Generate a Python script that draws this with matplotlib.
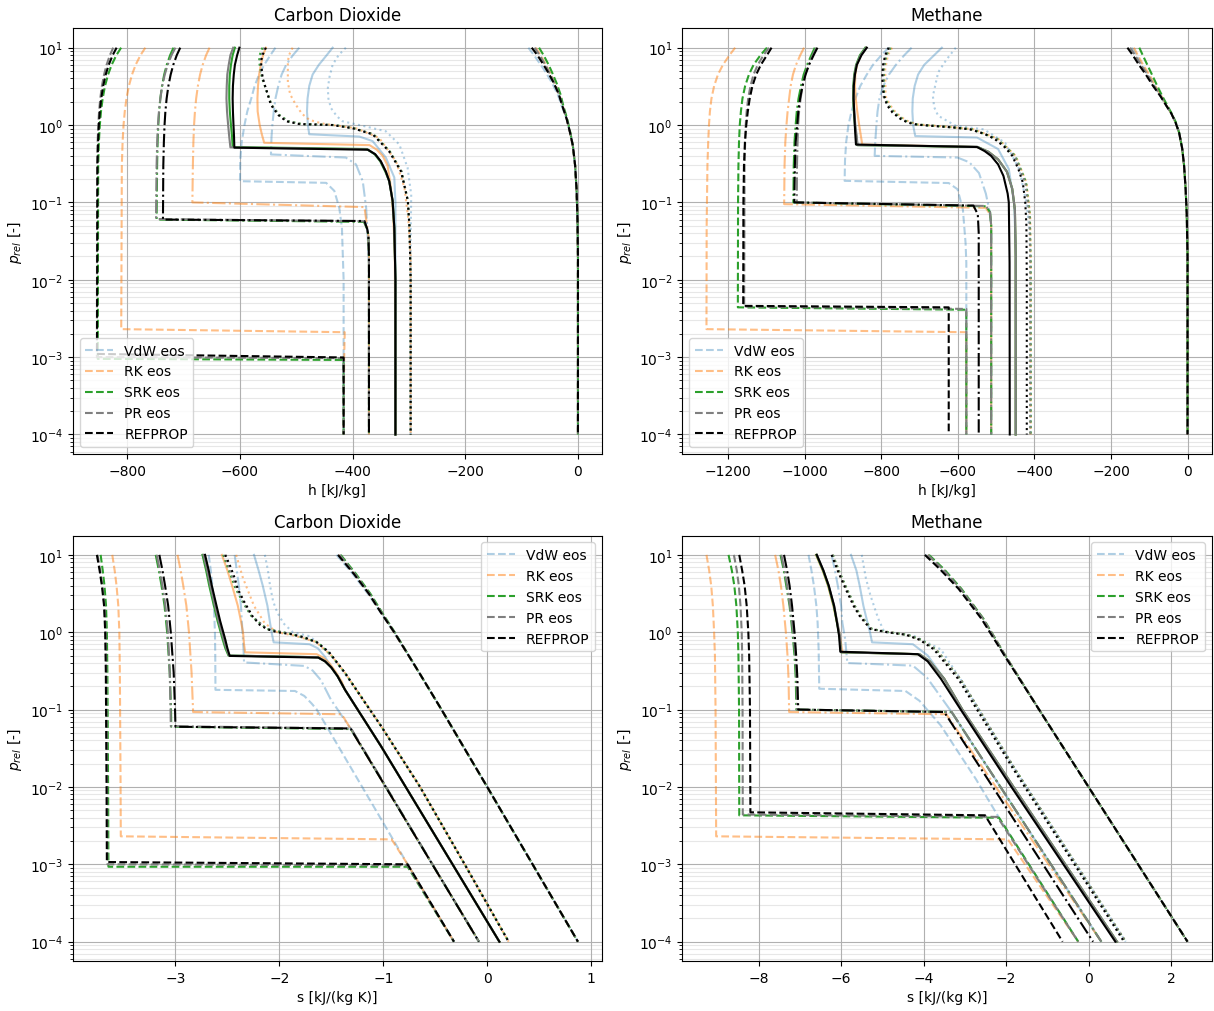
import matplotlib
matplotlib.use('Agg')
import matplotlib.pyplot as plt

# Isotherms as (x, p_rel) points, five temperatures per equation of state
# Order of temperatures: T1 (lowest), T2, T3, T4 (critical), T5 (reference)

# ---- Carbon dioxide, p-h ----
co2_h_vdw = [
    [(-537, 10), (-546, 8), (-557, 6), (-566, 4.5), (-574, 3.2), (-580, 2.2), (-587, 1.5), (-592, 1.0),
     (-597, 0.6), (-599.5, 0.35), (-600, 0.188),
     (-447, 0.179), (-432.5, 0.141), (-423.7, 0.085), (-419, 0.047), (-416, 0.01), (-416, 1e-4)],
    [(-494.7, 10), (-506, 8), (-518, 6), (-526, 4.5), (-532, 3.2), (-537, 2.2), (-540, 1.5), (-542.5, 1.0),
     (-544, 0.7), (-545, 0.417),
     (-412, 0.38), (-394, 0.31), (-382, 0.188), (-376, 0.085), (-374, 0.047), (-371, 0.015), (-371, 1e-4)],
    [(-435.5, 10), (-446, 8), (-460, 6), (-471, 4.5), (-477, 3.2), (-480, 2.2), (-481, 1.5), (-479.5, 1.0),
     (-477, 0.76),
     (-388, 0.71), (-364.5, 0.62), (-341, 0.38), (-326, 0.21), (-324, 0.1), (-324, 1e-4)],
    [(-412, 10), (-425, 8), (-435.5, 6.0), (-441, 4.2), (-444, 3.0), (-443, 2.2), (-438.5, 1.66), (-428, 1.3),
     (-418, 1.12), (-376, 0.955), (-341, 0.83), (-317, 0.56), (-302.4, 0.28), (-296, 0.126), (-297, 0.03),
     (-297, 1e-4)],
    [(-88, 10), (-78, 8), (-66, 6), (-57, 4.8), (-46, 3.5), (-36, 2.5), (-29, 1.78), (-20, 1.2), (-14, 0.8),
     (-9, 0.54), (-5, 0.3), (-2.5, 0.15), (-0.8, 0.06), (0, 0.02), (0, 1e-4)],
]
co2_h_rk = [
    [(-768, 10), (-776.6, 8), (-785.2, 6), (-791.6, 4.5), (-797.2, 3.2), (-801.5, 2.2), (-804.5, 1.5),
     (-806.7, 1.0), (-808.4, 0.6), (-809.7, 0.3), (-810.8, 0.0023),
     (-414, 0.0021), (-415, 0.001), (-416, 1e-4)],
    [(-654, 10), (-660.1, 8), (-666.2, 6), (-670.8, 4.5), (-674.7, 3.2), (-677.8, 2.2), (-679.9, 1.5),
     (-681.5, 1.0), (-682.7, 0.6), (-683.6, 0.3), (-684.5, 0.1),
     (-379, 0.087), (-376, 0.06), (-372, 0.037), (-371, 0.02), (-371, 1e-4)],
    [(-554, 10), (-559, 8), (-563, 6), (-566, 4.5), (-568, 3.2), (-569, 2.2), (-568.6, 1.5), (-565, 1.0),
     (-561, 0.75), (-557, 0.59),
     (-370, 0.55), (-357, 0.48), (-346.7, 0.4), (-338, 0.3), (-332, 0.155), (-328, 0.07), (-325, 0.02), (-324, 1e-4)],
    [(-506.5, 10), (-513, 8), (-515, 6.6), (-515, 3.6), (-511, 2.5), (-500.6, 1.82), (-490, 1.4), (-477, 1.17),
     (-455, 1.05), (-435.5, 1.0), (-394, 0.91), (-352.7, 0.68), (-323, 0.34), (-308, 0.155), (-301, 0.06),
     (-297, 0.02), (-297, 1e-4)],
    [(-75, 10), (-66, 8), (-57, 6), (-50, 4.8), (-41, 3.5), (-33, 2.5), (-27, 1.78), (-20, 1.2), (-14, 0.8),
     (-9, 0.54), (-5, 0.3), (-2.5, 0.15), (-0.8, 0.06), (0, 0.02), (0, 1e-4)],
]
co2_h_srk = [
    [(-811, 10), (-819.4, 8), (-827.8, 6), (-834.1, 4.5), (-839.6, 3.2), (-843.8, 2.2), (-846.7, 1.5),
     (-848.8, 1.0), (-850.5, 0.6), (-851.7, 0.3), (-852.5, 0.00095),
     (-416, 0.00092), (-416, 1e-4)],
    [(-718, 10), (-724, 8), (-730, 6), (-734.5, 4.5), (-738.4, 3.2), (-741.4, 2.2), (-743.5, 1.5), (-745, 1.0),
     (-746.2, 0.6), (-747.1, 0.3), (-748, 0.06),
     (-380, 0.056), (-374, 0.045), (-372, 0.037), (-371, 0.02), (-371, 1e-4)],
    [(-609, 10), (-613, 8), (-616, 6), (-618, 4.5), (-619, 3.2), (-619, 2.2), (-618, 1.5), (-616, 1.0),
     (-614, 0.7), (-613, 0.52),
     (-375, 0.49), (-361, 0.42), (-351, 0.34), (-342, 0.25), (-335, 0.188), (-329, 0.105), (-326, 0.047),
     (-324, 0.01), (-324, 1e-4)],
    [(-560, 10), (-565, 8), (-566, 6.6), (-563, 5), (-561, 4.07), (-553, 2.8), (-544, 1.82), (-530, 1.35),
     (-514, 1.12), (-490, 1.03), (-432, 1.0), (-398, 0.91), (-363, 0.76), (-334, 0.457), (-313, 0.25),
     (-302, 0.105), (-299, 0.047), (-297, 0.01), (-297, 1e-4)],
    [(-69, 10), (-61, 8), (-52, 6), (-46, 4.8), (-38, 3.5), (-31, 2.5), (-26, 1.78), (-19, 1.2), (-13.5, 0.8),
     (-9, 0.54), (-5, 0.3), (-2.5, 0.15), (-0.8, 0.06), (0, 0.02), (0, 1e-4)],
]
co2_h_pr = [
    [(-825, 10), (-830.9, 8), (-836.8, 6), (-841.2, 4.5), (-845.1, 3.2), (-848, 2.2), (-850.1, 1.5),
     (-851.5, 1.0), (-852.7, 0.6), (-853.6, 0.3), (-854, 0.001),
     (-416, 0.00097), (-416, 1e-4)],
    [(-714.6, 10), (-721.5, 8), (-728.4, 6), (-733.5, 4.5), (-738, 3.2), (-741.4, 2.2), (-743.8, 1.5),
     (-745.6, 1.0), (-746.9, 0.6), (-748, 0.3), (-749, 0.061),
     (-379, 0.057), (-374, 0.045), (-372, 0.037), (-371, 0.02), (-371, 1e-4)],
    [(-612, 10), (-617, 8), (-620, 6), (-622.5, 4.5), (-623.5, 3.2), (-624, 2.2), (-623, 1.5), (-621, 1.0),
     (-619, 0.7), (-617, 0.515),
     (-374, 0.485), (-360, 0.42), (-350, 0.34), (-341, 0.25), (-335, 0.188), (-329, 0.105), (-326, 0.047),
     (-324, 0.01), (-324, 1e-4)],
    [(-557, 10), (-562, 8), (-564, 6.6), (-562, 5), (-560, 4.07), (-553, 2.8), (-544, 1.82), (-531, 1.35),
     (-516, 1.12), (-492, 1.03), (-434, 1.0), (-399, 0.91), (-364, 0.76), (-335, 0.457), (-313, 0.25),
     (-302, 0.105), (-299, 0.047), (-297, 0.01), (-297, 1e-4)],
    [(-77, 10), (-68, 8), (-58, 6), (-51, 4.8), (-42, 3.5), (-33.5, 2.5), (-27.5, 1.78), (-20, 1.2), (-14, 0.8),
     (-9, 0.54), (-5, 0.3), (-2.5, 0.15), (-0.8, 0.06), (0, 0.02), (0, 1e-4)],
]
co2_h_ref = [
    [(-819, 10), (-826, 8), (-833, 6), (-838.3, 4.5), (-842.8, 3.2), (-846.3, 2.2), (-848.8, 1.5),
     (-850.5, 1.0), (-851.9, 0.6), (-853, 0.3), (-853.8, 0.0011),
     (-416, 0.00099), (-416, 1e-4)],
    [(-706, 10), (-712.2, 8), (-718.4, 6), (-723, 4.5), (-727.1, 3.2), (-730.2, 2.2), (-732.4, 1.5),
     (-733.9, 1.0), (-735.1, 0.6), (-736.1, 0.3), (-736.7, 0.06),
     (-379, 0.0575), (-374, 0.045), (-372, 0.037), (-371, 0.02), (-371, 1e-4)],
    [(-601, 10), (-605, 8), (-609, 6), (-611, 4.5), (-612.5, 3.2), (-613, 2.2), (-612.5, 1.5), (-611.5, 1.0),
     (-610.5, 0.7), (-610, 0.51),
     (-373, 0.48), (-360, 0.42), (-350, 0.34), (-341, 0.25), (-335, 0.188), (-329, 0.105), (-326, 0.047),
     (-324, 0.01), (-324, 1e-4)],
    [(-554, 10), (-560, 8), (-562.7, 6.6), (-561, 5), (-559.8, 4.07), (-553, 2.8), (-545, 1.82), (-532, 1.35),
     (-518, 1.12), (-494.7, 1.03), (-435.5, 1.0), (-400, 0.91), (-364.5, 0.76), (-335, 0.457), (-314, 0.25),
     (-302, 0.105), (-299, 0.047), (-297, 0.01), (-297, 1e-4)],
    [(-82, 10), (-72, 8), (-61, 6), (-53, 4.8), (-43, 3.5), (-34, 2.5), (-27.8, 1.78), (-20, 1.2), (-14, 0.8),
     (-9, 0.54), (-5, 0.3), (-2.5, 0.15), (-0.8, 0.06), (0, 0.02), (0, 1e-4)],
]

# ---- Methane, p-h ----
ch4_h_vdw = [
    [(-781, 10), (-800, 8), (-822, 6), (-838, 4.5), (-855, 3.2), (-868, 2.2), (-878, 1.5), (-886, 1.0),
     (-892, 0.6), (-895, 0.35), (-896, 0.19),
     (-624, 0.178), (-601, 0.148), (-587, 0.081), (-580, 0.03), (-578, 0.0166), (-578, 1e-4)],
    [(-721, 10), (-740, 8), (-762, 6), (-780, 4.5), (-795, 3.2), (-805, 2.2), (-810, 1.5), (-813, 1.0),
     (-816, 0.6), (-817.5, 0.4),
     (-601, 0.38), (-570, 0.33), (-545, 0.24), (-527, 0.13), (-518, 0.08), (-513, 0.05), (-513, 1e-4)],
    [(-642, 10), (-662, 8), (-688, 6), (-704, 4.5), (-713, 3.2), (-718, 2.2), (-719, 1.5), (-717, 1.0),
     (-711.5, 0.72),
     (-550, 0.69), (-495, 0.49), (-467, 0.27), (-453.5, 0.1), (-449, 0.03), (-449, 1e-4)],
    [(-605.5, 10), (-630, 7), (-651.6, 4.8), (-665.4, 2.37), (-662, 1.7), (-651.6, 1.32), (-605.5, 0.977),
     (-532, 0.88), (-476.5, 0.59), (-440, 0.27), (-421, 0.1), (-412, 0.04), (-410, 0.0166), (-410, 1e-4)],
    [(-145, 10), (-133, 8), (-119, 6), (-103, 4.5), (-86, 3.2), (-70, 2.37), (-56, 1.8), (-42, 1.4), (-32, 1.1),
     (-22, 0.8), (-14, 0.5), (-9, 0.3), (-5, 0.15), (-2, 0.07), (0, 0.02), (0, 1e-4)],
]
ch4_h_rk = [
    [(-1182, 10), (-1197, 8), (-1214, 6), (-1227, 4.5), (-1237, 3.2), (-1244, 2.2), (-1248, 1.5),
     (-1250.5, 1.0), (-1252.5, 0.6), (-1254.5, 0.3), (-1256.5, 0.05), (-1257, 0.0023),
     (-578, 0.0021), (-578, 1e-4)],
    [(-1002, 10), (-1012, 8), (-1023, 6), (-1031, 4.5), (-1037, 3.2), (-1041, 2.2), (-1045, 1.5), (-1048, 1.0),
     (-1051, 0.6), (-1053, 0.3), (-1054, 0.095),
     (-527, 0.085), (-516, 0.07), (-513, 0.05), (-513, 1e-4)],
    [(-840, 10), (-854, 8), (-864, 6), (-868, 4.5), (-869, 3.2), (-867, 2.2), (-863, 1.5), (-858, 1.0),
     (-854, 0.75), (-850, 0.56),
     (-550, 0.52), (-520, 0.45), (-495, 0.36), (-472, 0.25), (-458, 0.15), (-451, 0.08), (-449, 0.02), (-449, 1e-4)],
    [(-772, 10), (-783, 8), (-790, 5.25), (-789, 2.37), (-777, 1.8), (-762, 1.45), (-736, 1.15), (-706, 1.02),
     (-632, 0.955), (-558, 0.88), (-494, 0.66), (-449, 0.4), (-421, 0.182), (-411, 0.068), (-410, 0.0166),
     (-410, 1e-4)],
    [(-140, 10), (-130, 8), (-116, 6), (-100, 4.5), (-84, 3.2), (-68, 2.37), (-55, 1.8), (-42, 1.4), (-32, 1.1),
     (-22, 0.8), (-14, 0.5), (-9, 0.3), (-5, 0.15), (-2, 0.07), (0, 0.02), (0, 1e-4)],
]
ch4_h_srk = [
    [(-1099, 10), (-1116, 8), (-1134, 6), (-1146, 4.5), (-1156, 3.2), (-1163, 2.2), (-1167, 1.5), (-1170, 1.0),
     (-1172, 0.6), (-1173.5, 0.3), (-1174.5, 0.1), (-1175, 0.0044),
     (-578, 0.0041), (-578, 1e-4)],
    [(-974, 10), (-983, 8), (-994, 6), (-1003, 4.5), (-1010, 3.2), (-1016.5, 2.2), (-1021, 1.5), (-1024, 1.0),
     (-1027, 0.6), (-1029, 0.3), (-1030, 0.1),
     (-527, 0.089), (-516, 0.075), (-513, 0.05), (-513, 1e-4)],
    [(-842, 10), (-856, 8), (-866, 6), (-871, 4.5), (-873.5, 3.2), (-874, 2.2), (-872, 1.5), (-869, 1.0),
     (-866, 0.75), (-863, 0.55),
     (-548, 0.52), (-520, 0.45), (-495, 0.36), (-472, 0.25), (-458, 0.15), (-451, 0.08), (-449, 0.02), (-449, 1e-4)],
    [(-776, 10), (-787, 8), (-794, 5.25), (-793, 2.37), (-781, 1.8), (-766, 1.45), (-740, 1.15), (-710, 1.02),
     (-636, 0.955), (-562, 0.88), (-497, 0.66), (-450, 0.4), (-422, 0.182), (-412, 0.068), (-410, 0.0166),
     (-410, 1e-4)],
    [(-126, 10), (-117, 8), (-105, 6), (-93, 4.5), (-79, 3.2), (-66, 2.37), (-53, 1.8), (-41, 1.4), (-31, 1.1),
     (-22, 0.8), (-14, 0.5), (-9, 0.3), (-5, 0.15), (-2, 0.07), (0, 0.02), (0, 1e-4)],
]
ch4_h_pr = [
    [(-1094, 10), (-1108, 8), (-1123, 6), (-1134, 4.5), (-1142, 3.2), (-1148, 2.2), (-1152, 1.5),
     (-1154.5, 1.0), (-1156, 0.6), (-1157.5, 0.3), (-1158.5, 0.0045),
     (-578, 0.0042), (-578, 1e-4)],
    [(-970, 10), (-979, 8), (-990, 6), (-999, 4.5), (-1006, 3.2), (-1011, 2.2), (-1015, 1.5), (-1017.5, 1.0),
     (-1019, 0.6), (-1020.5, 0.3), (-1021, 0.1),
     (-527, 0.09), (-516, 0.075), (-513, 0.05), (-513, 1e-4)],
    [(-840, 10), (-854, 8), (-865, 6), (-870, 4.5), (-872.5, 3.2), (-873, 2.2), (-871, 1.5), (-868, 1.0),
     (-865, 0.75), (-862, 0.55),
     (-550, 0.525), (-520, 0.45), (-495, 0.36), (-472, 0.25), (-458, 0.15), (-451, 0.08), (-449, 0.02), (-449, 1e-4)],
    [(-778, 10), (-789, 8), (-795, 5.25), (-795, 2.37), (-783, 1.8), (-768, 1.45), (-742, 1.15), (-712, 1.02),
     (-638, 0.955), (-564, 0.88), (-499, 0.66), (-452, 0.4), (-424, 0.182), (-413, 0.068), (-411, 0.0166),
     (-411, 1e-4)],
    [(-150, 10), (-137, 8), (-122, 6), (-105, 4.5), (-87, 3.2), (-70, 2.37), (-56, 1.8), (-42, 1.4), (-32, 1.1),
     (-22, 0.8), (-14, 0.5), (-9, 0.3), (-5, 0.15), (-2, 0.07), (0, 0.02), (0, 1e-4)],
]
ch4_h_ref = [
    [(-1087, 10), (-1099, 8), (-1115, 6), (-1127, 4.5), (-1137, 3.2), (-1144, 2.2), (-1149, 1.5), (-1153, 1.0),
     (-1156.5, 0.6), (-1159, 0.3), (-1160.5, 0.1), (-1161, 0.0046),
     (-624, 0.0044), (-624, 1e-4)],
    [(-967, 10), (-977, 8), (-989, 6), (-998, 4.5), (-1006, 3.2), (-1012.5, 2.2), (-1017, 1.5), (-1020, 1.0),
     (-1024, 0.6), (-1026, 0.3), (-1027.6, 0.1),
     (-559.4, 0.091), (-548, 0.07), (-545.6, 0.04), (-545.6, 1e-4)],
    [(-838, 10), (-852, 8), (-864, 6), (-869, 4.5), (-872, 3.2), (-872.5, 2.2), (-871, 1.5), (-869.5, 1.0),
     (-868, 0.75), (-866.4, 0.56),
     (-550, 0.52), (-530, 0.46), (-513.4, 0.4), (-495, 0.31), (-481, 0.22), (-470, 0.13), (-467, 0.1),
     (-465, 0.0166), (-464.5, 1e-4)],
    [(-781, 10), (-790, 8), (-795.5, 6), (-797.5, 4.5), (-797, 3.2), (-793, 2.4), (-785, 1.8), (-771, 1.45),
     (-750, 1.2), (-730, 1.07), (-705, 1.01), (-660, 0.97), (-610, 0.93), (-569, 0.88), (-530, 0.77),
     (-504, 0.66), (-478, 0.52), (-458, 0.4), (-442, 0.27), (-430.5, 0.182), (-424, 0.1), (-421, 0.05),
     (-420, 0.01), (-420, 1e-4)],
    [(-157, 10), (-143, 8), (-127, 6), (-109, 4.5), (-90, 3.2), (-71, 2.37), (-56, 1.8), (-42, 1.4), (-32, 1.1),
     (-22, 0.8), (-14, 0.5), (-9, 0.3), (-5, 0.15), (-2, 0.07), (0, 0.02), (0, 1e-4)],
]

# ---- Carbon dioxide, p-s ----
co2_s_vdw = [
    [(-2.68, 10), (-2.66, 6.3), (-2.645, 4), (-2.63, 2.2), (-2.62, 1), (-2.617, 0.5), (-2.615, 0.18),
     (-1.85, 0.174), (-1.76, 0.15), (-1.69, 0.12), (-1.64, 0.1), (-0.766, 0.001), (-0.32, 1e-4)],
    [(-2.43, 10), (-2.41, 6.3), (-2.39, 4), (-2.37, 2.2), (-2.355, 1), (-2.345, 0.6), (-2.34, 0.407),
     (-1.76, 0.367), (-1.68, 0.32), (-1.6, 0.24), (-1.505, 0.135), (-1.316, 0.057), (-0.08, 1e-4)],
    [(-2.244, 10), (-2.2, 6.3), (-2.16, 4), (-2.115, 2.2), (-2.09, 1.33), (-2.075, 1), (-2.055, 0.74),
     (-1.71, 0.70), (-1.63, 0.62), (-1.56, 0.48), (-1.5, 0.35), (-1.44, 0.27), (-1.368, 0.18), (-1.024, 0.034),
     (0.117, 1e-4)],
    [(-2.14, 10), (-2.11, 6.3), (-2.09, 4), (-2.06, 2.5), (-2.02, 1.8), (-1.96, 1.3), (-1.87, 1.0), (-1.71, 0.89),
     (-1.55, 0.6), (-1.4, 0.33), (-1.17, 0.12), (-1.024, 0.062), (-0.646, 0.01), (-0.217, 0.001), (0.206, 1e-4)],
    [(-1.45, 10), (-1.29, 5.6), (-1.15, 3.16), (-1.025, 1.8), (-0.9, 1), (-0.665, 0.316), (-0.44, 0.1),
     (0, 0.01), (0.873, 1e-4)],
]
co2_s_rk = [
    [(-3.608, 10), (-3.585, 6.3), (-3.567, 4), (-3.55, 2.2), (-3.54, 1), (-3.535, 0.3), (-3.528, 0.01),
     (-3.526, 0.0023), (-0.92, 0.0021), (-0.766, 0.001), (-0.32, 1e-4)],
    [(-2.98, 10), (-2.95, 6.3), (-2.925, 4), (-2.895, 2.2), (-2.87, 1), (-2.845, 0.3), (-2.83, 0.093),
     (-1.40, 0.087), (-1.316, 0.057), (-0.08, 1e-4)],
    [(-2.553, 10), (-2.5, 6.3), (-2.455, 4), (-2.4, 2.2), (-2.37, 1.4), (-2.35, 1), (-2.34, 0.7), (-2.33, 0.55),
     (-1.64, 0.52), (-1.58, 0.47), (-1.52, 0.4), (-1.46, 0.31), (-1.4, 0.23), (-1.368, 0.18), (-1.024, 0.034),
     (0.117, 1e-4)],
    [(-2.416, 10), (-2.35, 5), (-2.244, 2.19), (-2.14, 1.3), (-2.02, 1.0), (-1.85, 0.9), (-1.65, 0.75),
     (-1.5, 0.5), (-1.37, 0.3), (-1.17, 0.12), (-1.024, 0.062), (-0.646, 0.01), (-0.217, 0.001), (0.206, 1e-4)],
    [(-1.43, 10), (-1.275, 5.6), (-1.14, 3.16), (-1.02, 1.8), (-0.897, 1), (-0.665, 0.316), (-0.44, 0.1),
     (0, 0.01), (0.873, 1e-4)],
]
co2_s_srk = [
    [(-3.72, 10), (-3.7, 6.3), (-3.683, 4), (-3.668, 2.2), (-3.66, 1), (-3.655, 0.3), (-3.648, 0.01),
     (-3.645, 0.00093), (-0.766, 0.00093), (-0.32, 1e-4)],
    [(-3.19, 10), (-3.16, 6.3), (-3.134, 4), (-3.105, 2.2), (-3.08, 1), (-3.055, 0.3), (-3.043, 0.1),
     (-3.04, 0.06), (-1.31, 0.056), (-0.08, 1e-4)],
    [(-2.74, 10), (-2.705, 6.3), (-2.675, 4), (-2.63, 2.2), (-2.595, 1.4), (-2.565, 1), (-2.545, 0.8),
     (-2.52, 0.62), (-2.49, 0.5),
     (-1.63, 0.475), (-1.56, 0.42), (-1.5, 0.35), (-1.44, 0.27), (-1.368, 0.18), (-1.024, 0.034), (0.117, 1e-4)],
    [(-2.54, 10), (-2.48, 6), (-2.42, 3.63), (-2.34, 2.3), (-2.27, 1.62), (-2.12, 1.1), (-1.87, 0.94),
     (-1.63, 0.74), (-1.5, 0.5), (-1.37, 0.3), (-1.17, 0.12), (-1.024, 0.062), (-0.646, 0.01), (-0.217, 0.001),
     (0.206, 1e-4)],
    [(-1.41, 10), (-1.26, 5.6), (-1.125, 3.16), (-1.012, 1.8), (-0.89, 1), (-0.665, 0.316), (-0.44, 0.1),
     (0, 0.01), (0.873, 1e-4)],
]
co2_s_pr = [
    [(-3.75, 10), (-3.724, 6.3), (-3.703, 4), (-3.683, 2.2), (-3.672, 1), (-3.665, 0.3), (-3.658, 0.01),
     (-3.655, 0.001), (-0.766, 0.00097), (-0.32, 1e-4)],
    [(-3.18, 10), (-3.15, 6.3), (-3.125, 4), (-3.097, 2.2), (-3.073, 1), (-3.055, 0.3), (-3.047, 0.1),
     (-3.045, 0.061), (-1.31, 0.057), (-0.08, 1e-4)],
    [(-2.73, 10), (-2.695, 6.3), (-2.665, 4), (-2.62, 2.2), (-2.585, 1.4), (-2.555, 1), (-2.535, 0.8),
     (-2.51, 0.62), (-2.485, 0.5),
     (-1.63, 0.475), (-1.56, 0.42), (-1.5, 0.35), (-1.44, 0.27), (-1.368, 0.18), (-1.024, 0.034), (0.117, 1e-4)],
    [(-2.53, 10), (-2.47, 6), (-2.41, 3.63), (-2.335, 2.3), (-2.265, 1.62), (-2.12, 1.1), (-1.875, 0.94),
     (-1.635, 0.74), (-1.5, 0.5), (-1.37, 0.3), (-1.17, 0.12), (-1.024, 0.062), (-0.646, 0.01), (-0.217, 0.001),
     (0.206, 1e-4)],
    [(-1.42, 10), (-1.27, 5.6), (-1.135, 3.16), (-1.018, 1.8), (-0.893, 1), (-0.665, 0.316), (-0.44, 0.1),
     (0, 0.01), (0.873, 1e-4)],
]
co2_s_ref = [
    [(-3.756, 10), (-3.73, 6.3), (-3.708, 4), (-3.687, 2.2), (-3.676, 1), (-3.67, 0.3), (-3.663, 0.01),
     (-3.66, 0.00107), (-0.766, 0.001), (-0.32, 1e-4)],
    [(-3.155, 10), (-3.125, 6.3), (-3.1, 4), (-3.07, 2.2), (-3.045, 1), (-3.017, 0.3), (-3.004, 0.1),
     (-3.0, 0.06), (-1.316, 0.057), (-0.08, 1e-4)],
    [(-2.715, 10), (-2.68, 6.3), (-2.65, 4), (-2.605, 2.2), (-2.57, 1.4), (-2.54, 1), (-2.52, 0.8),
     (-2.5, 0.62), (-2.478, 0.494),
     (-1.625, 0.47), (-1.56, 0.42), (-1.5, 0.35), (-1.44, 0.27), (-1.368, 0.18), (-1.024, 0.034), (0.117, 1e-4)],
    [(-2.52, 10), (-2.47, 7), (-2.43, 5), (-2.4, 3.63), (-2.34, 2.5), (-2.26, 1.62), (-2.19, 1.25), (-2.12, 1.1),
     (-2.02, 1.0), (-1.88, 0.94), (-1.76, 0.86), (-1.64, 0.74), (-1.52, 0.55), (-1.37, 0.3), (-1.17, 0.12),
     (-1.024, 0.062), (-0.646, 0.01), (-0.217, 0.001), (0.206, 1e-4)],
    [(-1.436, 10), (-1.28, 5.6), (-1.14, 3.16), (-1.024, 1.8), (-0.895, 1), (-0.665, 0.316), (-0.44, 0.1),
     (0, 0.01), (0.873, 1e-4)],
]

# ---- Methane, p-s ----
ch4_s_vdw = [
    [(-6.79, 10), (-6.72, 6.3), (-6.66, 4), (-6.6, 2.2), (-6.57, 1.33), (-6.545, 0.6), (-6.53, 0.186),
     (-4.44, 0.174), (-4.1, 0.13), (-3.58, 0.062), (-2.73, 0.0126), (-2.17, 0.004), (-0.25, 1e-4)],
    [(-6.23, 10), (-6.15, 6.3), (-6.08, 4), (-6.0, 2.2), (-5.97, 1.33), (-5.9, 0.8), (-5.85, 0.4),
     (-4.26, 0.37), (-3.92, 0.26), (-3.32, 0.093), (0.31, 1e-4)],
    [(-5.76, 10), (-5.63, 6.3), (-5.55, 4), (-5.46, 2.2), (-5.36, 1.33), (-5.3, 1), (-5.25, 0.74),
     (-4.26, 0.70), (-3.9, 0.5), (-3.5, 0.25), (-3.06, 0.1), (-1.82, 0.01), (0.69, 1e-4)],
    [(-5.5, 10), (-5.4, 5), (-5.29, 3.0), (-5.1, 1.5), (-4.95, 1.0), (-4.26, 0.91), (-3.58, 0.6), (-3.1, 0.245),
     (-1.83, 0.0186), (0.9, 1e-4)],
    [(-3.95, 10), (-3.57, 6.5), (-3.12, 3.63), (-2.58, 1.5), (-2.03, 0.5), (-1.2, 0.1), (0, 0.01),
     (1.2, 0.001), (2.4, 1e-4)],
]
ch4_s_rk = [
    [(-9.265, 10), (-9.2, 6.3), (-9.15, 4), (-9.11, 2.2), (-9.08, 1), (-9.06, 0.5), (-9.045, 0.1),
     (-9.03, 0.0023), (-1.957, 0.0021), (-0.25, 1e-4)],
    [(-7.6, 10), (-7.52, 6.3), (-7.46, 4), (-7.4, 2.2), (-7.34, 1), (-7.3, 0.5), (-7.275, 0.25), (-7.26, 0.093),
     (-3.45, 0.087), (0.31, 1e-4)],
    [(-6.61, 10), (-6.45, 6.3), (-6.32, 4), (-6.19, 2.2), (-6.1, 1.33), (-6.03, 0.9), (-5.97, 0.55),
     (-4.1, 0.52), (-3.85, 0.42), (-3.5, 0.25), (-3.06, 0.1), (-1.82, 0.01), (0.69, 1e-4)],
    [(-6.21, 10), (-6.05, 6), (-5.87, 3.63), (-5.68, 2.2), (-5.53, 1.62), (-5.26, 1.1), (-4.85, 1.0),
     (-4.41, 0.93), (-4.07, 0.8), (-3.7, 0.6), (-3.1, 0.245), (-1.83, 0.0186), (0.9, 1e-4)],
    [(-3.9, 10), (-3.53, 6.5), (-3.1, 3.63), (-2.56, 1.5), (-2.02, 0.5), (-1.2, 0.1), (0, 0.01),
     (1.2, 0.001), (2.4, 1e-4)],
]
ch4_s_srk = [
    [(-8.73, 10), (-8.65, 6.3), (-8.59, 4), (-8.54, 2.2), (-8.505, 1), (-8.49, 0.5), (-8.475, 0.1),
     (-8.47, 0.0043), (-2.17, 0.004), (-0.25, 1e-4)],
    [(-7.47, 10), (-7.39, 6.3), (-7.33, 4), (-7.25, 2.2), (-7.18, 1), (-7.13, 0.5), (-7.1, 0.25), (-7.085, 0.1),
     (-3.32, 0.093), (0.31, 1e-4)],
    [(-6.6, 10), (-6.44, 6.3), (-6.31, 4), (-6.18, 2.2), (-6.1, 1.33), (-6.04, 0.9), (-6.0, 0.55),
     (-4.1, 0.52), (-3.85, 0.42), (-3.5, 0.25), (-3.06, 0.1), (-1.82, 0.01), (0.69, 1e-4)],
    [(-6.2, 10), (-6.04, 6), (-5.86, 3.63), (-5.67, 2.2), (-5.52, 1.62), (-5.25, 1.1), (-4.84, 1.0),
     (-4.4, 0.93), (-4.06, 0.8), (-3.7, 0.6), (-3.1, 0.245), (-1.83, 0.0186), (0.9, 1e-4)],
    [(-3.87, 10), (-3.5, 6.5), (-3.08, 3.63), (-2.55, 1.5), (-2.02, 0.5), (-1.2, 0.1), (0, 0.01),
     (1.2, 0.001), (2.4, 1e-4)],
]
ch4_s_pr = [
    [(-8.6, 10), (-8.53, 6.3), (-8.48, 4), (-8.44, 2.2), (-8.41, 1), (-8.4, 0.5), (-8.39, 0.1),
     (-8.385, 0.0044), (-2.21, 0.0041), (-0.25, 1e-4)],
    [(-7.45, 10), (-7.37, 6.3), (-7.31, 4), (-7.24, 2.2), (-7.16, 1), (-7.11, 0.5), (-7.08, 0.25), (-7.07, 0.1),
     (-3.32, 0.093), (0.31, 1e-4)],
    [(-6.59, 10), (-6.43, 6.3), (-6.3, 4), (-6.17, 2.2), (-6.09, 1.33), (-6.03, 0.9), (-6.0, 0.55),
     (-4.1, 0.52), (-3.85, 0.42), (-3.5, 0.25), (-3.06, 0.1), (-1.82, 0.01), (0.69, 1e-4)],
    [(-6.21, 10), (-6.05, 6), (-5.87, 3.63), (-5.68, 2.2), (-5.53, 1.62), (-5.26, 1.1), (-4.85, 1.0),
     (-4.41, 0.93), (-4.07, 0.8), (-3.71, 0.6), (-3.1, 0.245), (-1.83, 0.0186), (0.9, 1e-4)],
    [(-3.9, 10), (-3.53, 6.5), (-3.1, 3.63), (-2.56, 1.5), (-2.02, 0.5), (-1.2, 0.1), (0, 0.01),
     (1.2, 0.001), (2.4, 1e-4)],
]
ch4_s_ref = [
    [(-8.47, 10), (-8.4, 6.3), (-8.34, 4), (-8.29, 2.2), (-8.25, 1), (-8.23, 0.5), (-8.21, 0.1),
     (-8.2, 0.0047), (-2.51, 0.0043), (-0.63, 1e-4)],
    [(-7.385, 10), (-7.31, 6.3), (-7.25, 4), (-7.19, 2.2), (-7.13, 1), (-7.09, 0.5), (-7.06, 0.25), (-7.04, 0.1),
     (-3.5, 0.093), (0.11, 1e-4)],
    [(-6.59, 10), (-6.43, 6.3), (-6.3, 4), (-6.17, 2.2), (-6.1, 1.33), (-6.05, 0.9), (-6.02, 0.56),
     (-4.14, 0.52), (-3.9, 0.42), (-3.58, 0.25), (-3.1, 0.1), (-1.87, 0.01), (0.65, 1e-4)],
    [(-6.23, 10), (-6.07, 6), (-5.89, 3.63), (-5.7, 2.2), (-5.55, 1.62), (-5.29, 1.1), (-4.88, 1.0),
     (-4.44, 0.93), (-4.1, 0.8), (-3.75, 0.6), (-3.15, 0.245), (-1.87, 0.0186), (0.86, 1e-4)],
    [(-3.97, 10), (-3.6, 6.5), (-3.15, 3.63), (-2.6, 1.5), (-2.04, 0.5), (-1.2, 0.1), (0, 0.01),
     (1.2, 0.001), (2.4, 1e-4)],
]

eos_labels = ['VdW eos', 'RK eos', 'SRK eos', 'PR eos', 'REFPROP']
eos_colors = ['tab:blue', 'tab:orange', 'tab:green', 'tab:gray', 'k']
eos_alpha = [0.35, 0.5, 1.0, 1.0, 1.0]
temp_styles = ['--', '-.', '-', ':', '--']

panels = [
    ('Carbon Dioxide', 'h [kJ/kg]', 'lower left', [co2_h_vdw, co2_h_rk, co2_h_srk, co2_h_pr, co2_h_ref]),
    ('Methane', 'h [kJ/kg]', 'lower left', [ch4_h_vdw, ch4_h_rk, ch4_h_srk, ch4_h_pr, ch4_h_ref]),
    ('Carbon Dioxide', 's [kJ/(kg K)]', 'upper right', [co2_s_vdw, co2_s_rk, co2_s_srk, co2_s_pr, co2_s_ref]),
    ('Methane', 's [kJ/(kg K)]', 'upper right', [ch4_s_vdw, ch4_s_rk, ch4_s_srk, ch4_s_pr, ch4_s_ref]),
]

fig, axs = plt.subplots(2, 2, figsize=(12.14, 10.12), dpi=100)
fig.subplots_adjust(left=0.06, right=0.998, top=0.971, bottom=0.0494, wspace=0.152, hspace=0.192)

for ax, (title, xlabel, legend_loc, eos_sets) in zip(axs.flat, panels):
    for curves, label, color, alpha in zip(eos_sets, eos_labels, eos_colors, eos_alpha):
        for i, (curve, ls) in enumerate(zip(curves, temp_styles)):
            x = [pt[0] for pt in curve]
            p = [pt[1] for pt in curve]
            ax.plot(x, p, ls=ls, color=color, alpha=alpha, lw=1.5,
                    label=label if i == 0 else None)

    ax.set_yscale('log')
    ax.set_title(title, fontsize=12)
    ax.set_xlabel(xlabel)
    ax.set_ylabel(r'$p_{rel}$ [-]')
    ax.grid(which='major', color='#b0b0b0', lw=0.8)
    ax.grid(which='minor', color='#b0b0b0', lw=0.8, alpha=0.3)
    ax.legend(loc=legend_loc, fontsize=10)

fig.savefig('out.png', dpi=100)
plt.close()
